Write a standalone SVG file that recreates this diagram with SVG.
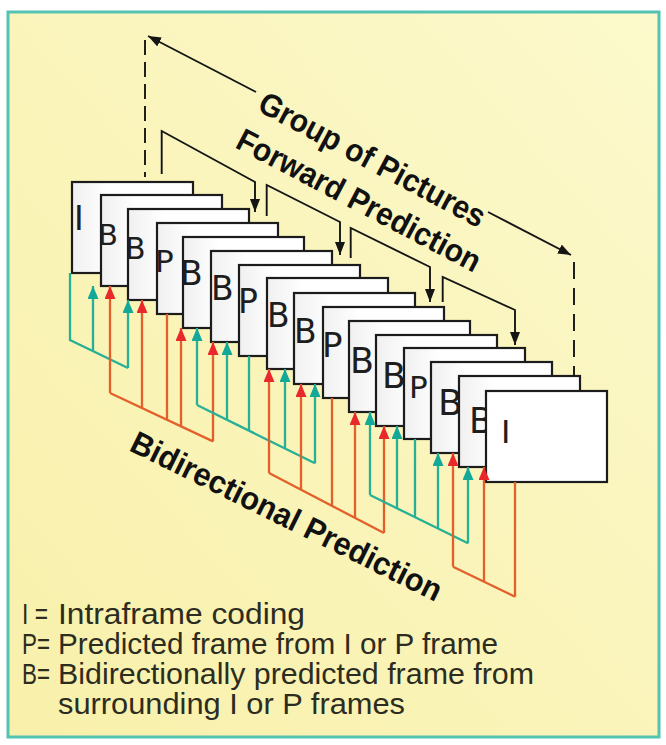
<svg xmlns="http://www.w3.org/2000/svg" width="666" height="745" viewBox="0 0 666 745">
<defs>
<linearGradient id="bg" x1="0" y1="1" x2="1" y2="0"><stop offset="0" stop-color="#F8F0AA"/><stop offset="1" stop-color="#FCF9CC"/></linearGradient>
<linearGradient id="fr" x1="0" y1="0" x2="1" y2="0"><stop offset="0" stop-color="#f0f0f0"/><stop offset="0.3" stop-color="#ffffff"/></linearGradient>
<marker id="mt" viewBox="0 0 13 11" refX="13" refY="5.5" markerWidth="13" markerHeight="11" markerUnits="userSpaceOnUse" orient="auto"><path d="M0,0 L13,5.5 L0,11 z" fill="#14A899"/></marker>
<marker id="mr" viewBox="0 0 13 11" refX="13" refY="5.5" markerWidth="13" markerHeight="11" markerUnits="userSpaceOnUse" orient="auto"><path d="M0,0 L13,5.5 L0,11 z" fill="#E8282A"/></marker>
<marker id="mb" viewBox="0 0 13 10" refX="13" refY="5" markerWidth="13" markerHeight="10" markerUnits="userSpaceOnUse" orient="auto-start-reverse"><path d="M0,0 L13,5 L0,10 z" fill="#151515"/></marker>
</defs>
<style>
.frame rect{fill:url(#fr);stroke:#1c1c1c;stroke-width:2.2}
.lbl{font-family:"DejaVu Sans",sans-serif;fill:#1e1e1e}
.teal path{stroke:#27B096;stroke-width:2.3;fill:none}
.red path{stroke:#E3602B;stroke-width:2.3;fill:none}
.ta{marker-end:url(#mt)}
.ra{marker-end:url(#mr)}
.blk{stroke:#151515;stroke-width:1.9;fill:none}
.dash{stroke:#151515;stroke-width:1.9;fill:none;stroke-dasharray:15 7}
.title{font-family:"Liberation Sans",sans-serif;font-weight:bold;font-size:32px;fill:#111}
.legend{font-family:"Liberation Sans",sans-serif;font-size:30px;fill:#2c2c20}
</style>
<rect x="0" y="0" width="666" height="745" fill="#ffffff"/>
<rect x="8" y="12" width="651" height="725" fill="url(#bg)" stroke="#55C3B2" stroke-width="3"/>

<g id="frames">
<g id="f1" class="frame"><rect x="72" y="182" width="121" height="91"/><text class="lbl" x="74" y="230" font-size="33">I</text></g>
<g id="f2" class="frame"><rect x="101" y="195" width="121" height="91"/><text class="lbl" x="98" y="245" font-size="29">B</text></g>
<g id="f3" class="frame"><rect x="128" y="209" width="121" height="91"/><text class="lbl" x="125" y="259" font-size="30">B</text></g>
<g id="f4" class="frame"><rect x="157" y="223" width="121" height="91"/><text class="lbl" x="155" y="272" font-size="31">P</text></g>
<g id="f5" class="frame"><rect x="183" y="237" width="121" height="91"/><text class="lbl" x="180" y="285" font-size="33">B</text></g>
<g id="f6" class="frame"><rect x="211" y="251" width="121" height="91"/><text class="lbl" x="211" y="300" font-size="33">B</text></g>
<g id="f7" class="frame"><rect x="239" y="265" width="121" height="91"/><text class="lbl" x="238" y="313" font-size="33">P</text></g>
<g id="f8" class="frame"><rect x="267" y="278" width="121" height="91"/><text class="lbl" x="267" y="327" font-size="33">B</text></g>
<g id="f9" class="frame"><rect x="294" y="293" width="121" height="91"/><text class="lbl" x="294" y="343" font-size="33">B</text></g>
<g id="f10" class="frame"><rect x="323" y="307" width="121" height="91"/><text class="lbl" x="322" y="357" font-size="34">P</text></g>
<g id="f11" class="frame"><rect x="349" y="321" width="121" height="91"/><text class="lbl" x="350" y="373" font-size="35">B</text></g>
<g id="f12" class="frame"><rect x="376" y="335" width="121" height="91"/><text class="lbl" x="382" y="388" font-size="35">B</text></g>
<g id="f13" class="frame"><rect x="404" y="348" width="121" height="91"/><text class="lbl" x="409" y="398" font-size="31">P</text></g>
<g id="f14" class="frame"><rect x="431" y="362" width="121" height="91"/><text class="lbl" x="438" y="415" font-size="36">B</text></g>
<g id="f15" class="frame"><rect x="459" y="376" width="121" height="91"/><text class="lbl" x="469" y="433" font-size="35">B</text></g>
<g id="f16" class="frame"><rect x="486" y="391" width="121" height="91" style="fill:#ffffff"/><text class="lbl" x="501" y="443" font-size="32">I</text></g>
</g>

<g id="connectors">
<g id="forward">
<path class="blk" d="M161.7,174 V131 L255,182 V212" marker-end="url(#mb)"/>
<path class="blk" d="M266.7,216 V185 L340,222 V255" marker-end="url(#mb)"/>
<path class="blk" d="M350.7,258 V228 L430,267 V302" marker-end="url(#mb)"/>
<path class="blk" d="M442.7,302 V277 L515,310 V345" marker-end="url(#mb)"/>
</g>
<g id="gop">
<path class="dash" d="M145,40 V177"/>
<path class="dash" d="M574,262 V376" style="stroke-dasharray:17 9"/>
<path class="blk" d="M256,92 L148,36" marker-end="url(#mb)"/>
<path class="blk" d="M488,212 L571,255" marker-end="url(#mb)"/>
</g>
<g id="t1" class="teal">
<path d="M70,273 V340 L128,368"/>
<path class="ta" d="M93,351 V286"/>
<path class="ta" d="M128,368 V300"/>
</g>
<g id="r4" class="red">
<path d="M167,314 V420"/>
<path d="M110,393 L213,441.4"/>
<path class="ra" d="M110,393 V286"/>
<path class="ra" d="M142,408 V300"/>
<path class="ra" d="M181,426.4 V328"/>
<path class="ra" d="M213,441.4 V342"/>
</g>
<g id="t7" class="teal">
<path d="M197,405 L315,463.3"/>
<path d="M249,356 V430.7"/>
<path class="ta" d="M197,405 V328"/>
<path class="ta" d="M227,419.8 V342"/>
<path class="ta" d="M285,448.5 V369"/>
<path class="ta" d="M315,463.3 V384"/>
</g>
<g id="r10" class="red">
<path d="M269,473 L384,533"/>
<path d="M332,398 V505.9"/>
<path class="ra" d="M269,473 V369"/>
<path class="ra" d="M301,489.7 V384"/>
<path class="ra" d="M355,517.9 V412"/>
<path class="ra" d="M384,533 V426"/>
</g>
<g id="t13" class="teal">
<path d="M370,495 L468,543.3"/>
<path d="M415,439 V517.2"/>
<path class="ta" d="M370,495 V412"/>
<path class="ta" d="M397,508.3 V426"/>
<path class="ta" d="M438,528.5 V453"/>
<path class="ta" d="M468,543.3 V467"/>
</g>
<g id="r16" class="red">
<path d="M453,566.7 L515,596.7"/>
<path d="M515,482 V596.7"/>
<path class="ra" d="M453,566.7 V453"/>
<path class="ra" d="M484,581.7 V467"/>
</g>
</g>

<g id="titles">
<text class="title" transform="translate(256,110) rotate(28)" textLength="252" lengthAdjust="spacingAndGlyphs">Group of Pictures</text>
<text class="title" transform="translate(234,147) rotate(27.7)" textLength="271" lengthAdjust="spacingAndGlyphs">Forward Prediction</text>
<text class="title" transform="translate(128,450) rotate(26.3)" textLength="343" lengthAdjust="spacingAndGlyphs">Bidirectional Prediction</text>
</g>

<g id="legend">
<text class="legend" x="22" y="624" textLength="26" lengthAdjust="spacingAndGlyphs">I =</text>
<text class="legend" x="58" y="624" textLength="247" lengthAdjust="spacingAndGlyphs">Intraframe coding</text>
<text class="legend" x="22" y="654" textLength="28" lengthAdjust="spacingAndGlyphs">P=</text>
<text class="legend" x="58" y="654" textLength="440" lengthAdjust="spacingAndGlyphs">Predicted frame from I or P frame</text>
<text class="legend" x="22" y="684" textLength="28" lengthAdjust="spacingAndGlyphs">B=</text>
<text class="legend" x="58" y="684" textLength="476" lengthAdjust="spacingAndGlyphs">Bidirectionally predicted frame from</text>
<text class="legend" x="58" y="714" textLength="347" lengthAdjust="spacingAndGlyphs">surrounding I or P frames</text>
</g>
</svg>
